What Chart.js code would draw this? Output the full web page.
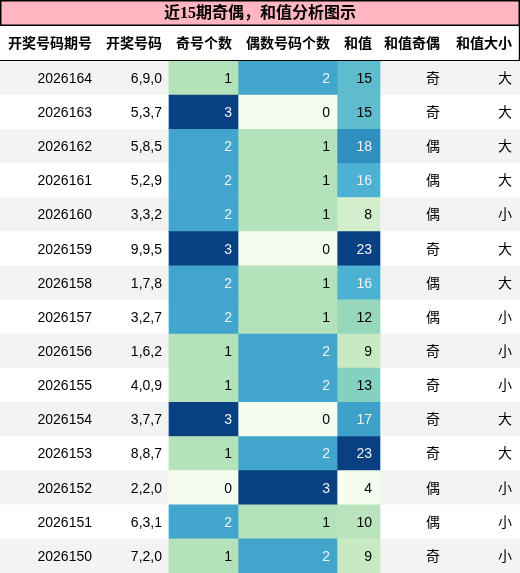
<!DOCTYPE html>
<html>
<head>
<meta charset="utf-8">
<script src="https://cdn.jsdelivr.net/npm/chart.js@4/dist/chart.umd.min.js"></script>
<style>
  html, body { margin: 0; padding: 0; background: #fff; }
  canvas { display: block; }
</style>
</head>
<body>
<canvas id="c" width="520" height="573"></canvas>
<script>
// table data
const title = '近15期奇偶，和值分析图示';
const headers = ['开奖号码期号', '开奖号码', '奇号个数', '偶数号码个数', '和值', '和值奇偶', '和值大小'];
const periods = ['2026164', '2026163', '2026162', '2026161', '2026160', '2026159', '2026158', '2026157',
                 '2026156', '2026155', '2026154', '2026153', '2026152', '2026151', '2026150'];
const numbers = ['6,9,0', '5,3,7', '5,8,5', '5,2,9', '3,3,2', '9,9,5', '1,7,8', '3,2,7',
                 '1,6,2', '4,0,9', '3,7,7', '8,8,7', '2,2,0', '6,3,1', '7,2,0'];
const oddCounts = [1, 3, 2, 2, 2, 3, 2, 2, 1, 1, 3, 1, 0, 2, 1];
const evenCounts = [2, 0, 1, 1, 1, 0, 1, 1, 2, 2, 0, 2, 3, 1, 2];
const sums = [15, 15, 18, 16, 8, 23, 16, 12, 9, 13, 17, 23, 4, 10, 9];
const sumParity = ['奇', '奇', '偶', '偶', '偶', '奇', '偶', '偶', '奇', '奇', '奇', '奇', '偶', '偶', '奇'];
const sumSize = ['大', '大', '大', '大', '小', '大', '大', '小', '小', '小', '大', '大', '小', '小', '小'];

// layout (pixels of the x scale)
const colEdges = [0, 101, 169, 238, 337, 380, 446, 520];
const textPad = [9, 7, 6, 7, 8, 6, 8];
const headerTop = 25, bodyTop = 61;

// GnBu colormap
const gnbu = ['#f7fcf0', '#e0f3db', '#ccebc5', '#a8ddb5', '#7bccc4', '#4eb3d3', '#2b8cbe', '#0868ac', '#084081'];
function hexRgb(h) {
    return [parseInt(h.slice(1, 3), 16), parseInt(h.slice(3, 5), 16), parseInt(h.slice(5, 7), 16)];
}
function cmap(t) {
    t = Math.max(0, Math.min(1, t));
    const p = t * (gnbu.length - 1);
    const i = Math.min(Math.floor(p), gnbu.length - 2);
    const f = p - i;
    const a = hexRgb(gnbu[i]), b = hexRgb(gnbu[i + 1]);
    return a.map((v, k) => Math.round(v + (b[k] - v) * f));
}
function gradient(values) {
    const lo = Math.min(...values), hi = Math.max(...values);
    return values.map(v => cmap((v - lo) / (hi - lo)));
}
function textColorFor(rgb) {
    const lin = rgb.map(c => {
        c = c / 255;
        return c <= 0.03928 ? c / 12.92 : Math.pow((c + 0.055) / 1.055, 2.4);
    });
    const lum = 0.2126 * lin[0] + 0.7152 * lin[1] + 0.0722 * lin[2];
    return lum < 0.408 ? '#f1f1f1' : '#000000';
}
const rgbStr = c => `rgb(${c[0]},${c[1]},${c[2]})`;

const oddColors = gradient(oddCounts);
const evenColors = gradient(evenCounts);
const sumColors = gradient(sums);

const columns = [periods, numbers, oddCounts, evenCounts, sums, sumParity, sumSize];
const cellColors = [null, null, oddColors, evenColors, sumColors, null, null];

function cellData(values, col) {
    return values.map((v, i) => ({ y: periods[i], x: [colEdges[col], colEdges[col + 1]], v: v }));
}

const bodyFont = '14px "Liberation Sans", "Noto Sans CJK SC", sans-serif';
const headFont = 'bold 14px "Liberation Sans", "Noto Sans CJK SC", sans-serif';
const titleFont = 'bold 16px "Liberation Serif", "Noto Sans CJK SC", serif';

const tablePlugin = {
    id: 'tableText',
    afterDatasetsDraw(chart) {
        const ctx = chart.ctx;
        const xs = chart.scales.x, ys = chart.scales.y;
        ctx.save();
        ctx.textAlign = 'right';
        ctx.textBaseline = 'middle';
        ctx.font = bodyFont;
        for (let i = 0; i < periods.length; i++) {
            const y = ys.getPixelForValue(i);
            for (let c = 0; c < columns.length; c++) {
                const x = xs.getPixelForValue(colEdges[c + 1]) - textPad[c];
                ctx.fillStyle = cellColors[c] ? textColorFor(cellColors[c][i]) : '#000000';
                ctx.fillText(String(columns[c][i]), x, y + 1);
            }
        }
        ctx.restore();
    },
    afterDraw(chart) {
        const ctx = chart.ctx;
        const xs = chart.scales.x;
        const w = chart.width;
        ctx.save();
        // title box
        ctx.fillStyle = '#ffb6c1';
        ctx.fillRect(0, 0, w, headerTop);
        ctx.strokeStyle = '#000000';
        ctx.lineWidth = 1.5;
        ctx.strokeRect(0.75, 0.75, w - 1.5, headerTop - 0.5);
        ctx.fillStyle = '#000000';
        ctx.font = titleFont;
        ctx.textAlign = 'center';
        ctx.textBaseline = 'middle';
        ctx.fillText(title, w / 2, headerTop / 2 + 1);
        // header row
        ctx.font = headFont;
        ctx.textAlign = 'right';
        for (let c = 0; c < headers.length; c++) {
            const x = xs.getPixelForValue(colEdges[c + 1]) - textPad[c];
            ctx.fillText(headers[c], x, (headerTop + bodyTop) / 2 + 1);
        }
        ctx.lineWidth = 1.2;
        ctx.beginPath();
        ctx.moveTo(0, bodyTop - 0.5);
        ctx.lineTo(w, bodyTop - 0.5);
        ctx.moveTo(w - 0.6, headerTop);
        ctx.lineTo(w - 0.6, bodyTop);
        ctx.stroke();
        ctx.restore();
    }
};

const chart = new Chart(document.getElementById('c'), {
    type: 'bar',
    data: {
        labels: periods,
        datasets: [
            {
                label: '奇号个数',
                data: cellData(oddCounts, 2),
                backgroundColor: ctx => rgbStr(oddColors[ctx.dataIndex]),
                order: 1,
            },
            {
                label: '偶数号码个数',
                data: cellData(evenCounts, 3),
                backgroundColor: ctx => rgbStr(evenColors[ctx.dataIndex]),
                order: 1,
            },
            {
                label: '和值',
                data: cellData(sums, 4),
                backgroundColor: ctx => rgbStr(sumColors[ctx.dataIndex]),
                order: 1,
            },
            {
                label: 'rows',
                data: periods.map(p => ({ y: p, x: [colEdges[0], colEdges[colEdges.length - 1]] })),
                backgroundColor: ctx => (ctx.dataIndex % 2 === 0 ? '#f3f3f3' : '#ffffff'),
                order: 5,
            },
        ],
    },
    options: {
        indexAxis: 'y',
        responsive: false,
        animation: false,
        devicePixelRatio: window.devicePixelRatio || 1,
        layout: { padding: { top: bodyTop, left: 0, right: 0, bottom: 0 } },
        datasets: {
            bar: {
                grouped: false,
                barPercentage: 1,
                categoryPercentage: 1,
                borderWidth: 0,
            },
        },
        scales: {
            x: { type: 'linear', min: colEdges[0], max: colEdges[colEdges.length - 1], display: false },
            y: { type: 'category', display: false },
        },
        plugins: {
            legend: { display: false },
            tooltip: { enabled: false },
            title: { display: false },
        },
    },
    plugins: [tablePlugin],
});
</script>
</body>
</html>
